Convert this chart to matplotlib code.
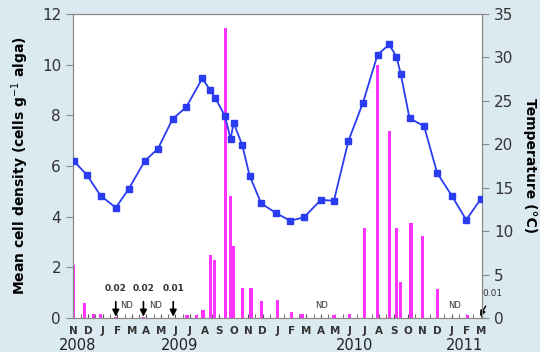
import numpy as np
import matplotlib.pyplot as plt
from matplotlib.transforms import blended_transform_factory

# months counted from Nov 2008 (0) to Mar 2011 (28)
month_labels = ["N", "D", "J", "F", "M", "A", "M", "J", "J", "A", "S", "O", "N", "D",
                "J", "F", "M", "A", "M", "J", "J", "A", "S", "O", "N", "D", "J", "F", "M"]
years = ["2008", "2009", "2010", "2011"]
year_pos = [0.3, 7.3, 19.3, 26.9]

# temperature samples (right axis)
temp_t = [0, 0.9, 1.85, 2.9, 3.8, 4.9, 5.8, 6.8, 7.75, 8.85, 9.4, 9.75, 10.4, 10.8, 11.0,
          11.6, 12.1, 12.9, 13.9, 14.9, 15.85, 17.0, 17.9, 18.9, 19.9, 20.9, 21.7, 22.2,
          22.5, 23.1, 24.1, 25.0, 26.0, 27.0, 28.0]
temp = [18.1, 16.5, 14.1, 12.7, 14.9, 18.1, 19.5, 22.9, 24.3, 27.6, 26.2, 25.3, 23.3, 20.6,
        22.5, 19.9, 16.4, 13.2, 12.1, 11.2, 11.6, 13.6, 13.5, 20.4, 24.8, 30.3, 31.5, 30.1,
        28.1, 23.0, 22.1, 16.7, 14.1, 11.3, 13.7]

# cell density samples (left axis)
dens_t = [0, 0.75, 1.37, 1.85, 2.9, 4.8, 6.85, 7.8, 8.45, 8.9, 9.4, 9.7, 10.45, 10.8, 11.0,
          11.6, 12.2, 12.9, 14.0, 15.0, 15.7, 17.9, 18.95, 20.0, 20.9, 21.7, 22.2, 22.5,
          23.2, 24.0, 25.05, 27.1, 27.95]
dens = [2.1, 0.6, 0.16, 0.16, 0.02, 0.02, 0.01, 0.1, 0.1, 0.3, 2.5, 2.3, 11.45, 4.83, 2.85,
        1.19, 1.19, 0.67, 0.71, 0.25, 0.14, 0.1, 0.15, 3.55, 10.0, 7.37, 3.56, 1.42,
        3.77, 3.25, 1.15, 0.12, 0.01]

# small-value notes
notes_x = [2.9, 4.8, 6.85]
notes_txt = ["0.02", "0.02", "0.01"]
nd_x = [3.65, 5.65, 17.05, 26.2]

bg = "#dbe9f0"
fig = plt.figure(figsize=(5.4, 3.52), dpi=100, facecolor=bg)
ax = fig.add_axes([0.135, 0.0966, 0.758, 0.8634])
ax2 = ax.twinx()

ax.bar(dens_t, dens, width=0.22, color="#ff33ff", zorder=2)
ax2.plot(temp_t, temp, color="#2a3cf0", marker="s", markersize=4.5, linewidth=1.3, zorder=3)
ax.set_zorder(ax2.get_zorder() - 1)
ax.patch.set_visible(True)
ax2.patch.set_visible(False)

ax.set_xlim(-0.05, 28.1)
ax.set_ylim(0, 12)
ax2.set_ylim(0, 35)
ax.set_yticks(range(0, 13, 2))
ax2.set_yticks(range(0, 36, 5))

ax.set_xticks(range(29))
ax.set_xticklabels(month_labels, fontsize=7.5, fontweight="bold", color="#333333")
ax.set_xticks(np.arange(0.5, 28, 1), minor=True)
ax.tick_params(axis="x", which="both", direction="in", length=3, color="#555555", pad=6)
ax.tick_params(axis="y", direction="out", length=5, color="#888888", labelsize=11, labelcolor="#333333")
ax2.tick_params(axis="y", direction="out", length=5, color="#888888", labelsize=11, labelcolor="#333333")

for a in (ax, ax2):
    for s in a.spines.values():
        s.set_color("#8a8a8a")

ax.set_ylabel("Mean cell density (cells g$^{-1}$ alga)", fontsize=10, fontweight="bold", labelpad=8)
ax2.set_ylabel("Temperature (°C)", fontsize=10, fontweight="bold", rotation=270, labelpad=17)

tr = blended_transform_factory(ax.transData, ax.transAxes)
for x, y in zip(year_pos, years):
    ax.text(x, -0.092, y, transform=tr, ha="center", va="center", fontsize=10.5, color="#222222")

for x, t in zip(notes_x, notes_txt):
    ax.annotate(t, xy=(x, 0.05), xytext=(x, 1.15), ha="center", va="center", fontsize=6.5,
                fontweight="bold", color="#333333",
                arrowprops=dict(arrowstyle="-|>", color="black", lw=1.2, shrinkA=4, shrinkB=0, mutation_scale=10))
for x in nd_x:
    ax.text(x, 0.5, "ND", ha="center", va="center", fontsize=6, color="#333333")
ax.annotate("0.01", xy=(27.95, 0.07), xytext=(28.8, 0.95), ha="center", va="center", fontsize=6.5,
            color="#333333", annotation_clip=False,
            arrowprops=dict(arrowstyle="-|>", color="black", lw=1.0, shrinkA=4, shrinkB=0, mutation_scale=8))

fig.savefig("out.png", dpi=100, facecolor=bg)
